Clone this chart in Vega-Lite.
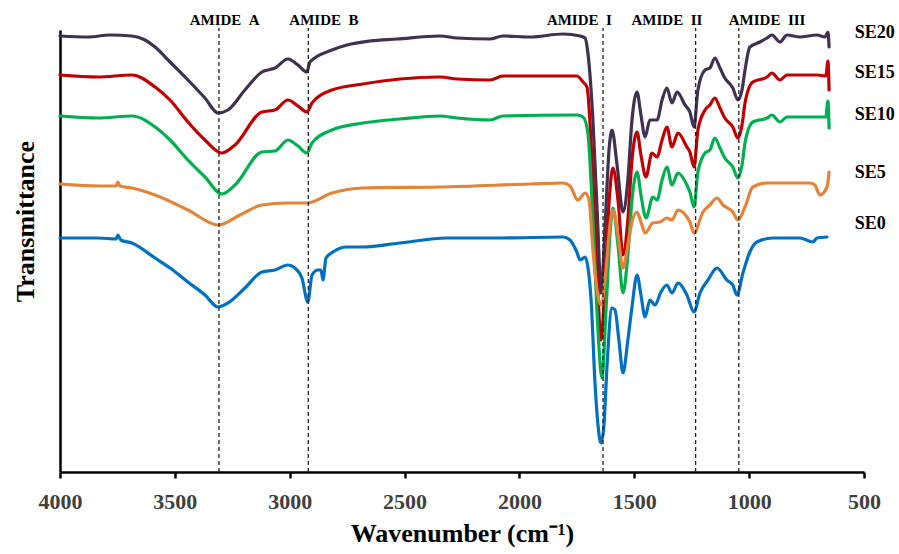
{
  "$schema": "https://vega.github.io/schema/vega-lite/v6.json",
  "width": 804,
  "height": 442,
  "autosize": {"type": "none"},
  "padding": {"left": 60, "top": 30, "right": 35, "bottom": 82},
  "background": "white",
  "config": {
    "view": {"stroke": null},
    "font": "Liberation Serif"
  },
  "datasets": {
    "spectra": [
      {"s":"SE20","w":4000,"t":436},{"s":"SE20","w":3878,"t":435},{"s":"SE20","w":3782,"t":437},{"s":"SE20","w":3687,"t":436},{"s":"SE20","w":3630,"t":432},{"s":"SE20","w":3586,"t":425},{"s":"SE20","w":3521,"t":410},{"s":"SE20","w":3443,"t":392},{"s":"SE20","w":3369,"t":374},{"s":"SE20","w":3312,"t":359},{"s":"SE20","w":3269,"t":362},{"s":"SE20","w":3195,"t":382},{"s":"SE20","w":3121,"t":400},{"s":"SE20","w":3064,"t":404},{"s":"SE20","w":3008,"t":413},{"s":"SE20","w":2964,"t":407},{"s":"SE20","w":2925,"t":400},{"s":"SE20","w":2912,"t":410},{"s":"SE20","w":2816,"t":422},{"s":"SE20","w":2751,"t":427},{"s":"SE20","w":2651,"t":431},{"s":"SE20","w":2533,"t":433},{"s":"SE20","w":2346,"t":436},{"s":"SE20","w":2272,"t":434},{"s":"SE20","w":2128,"t":433},{"s":"SE20","w":2072,"t":436},{"s":"SE20","w":1954,"t":435},{"s":"SE20","w":1810,"t":438},{"s":"SE20","w":1736,"t":436},{"s":"SE20","w":1714,"t":434},{"s":"SE20","w":1702,"t":419},{"s":"SE20","w":1680,"t":352},{"s":"SE20","w":1658,"t":242},{"s":"SE20","w":1645,"t":179},{"s":"SE20","w":1628,"t":242},{"s":"SE20","w":1610,"t":322},{"s":"SE20","w":1597,"t":342},{"s":"SE20","w":1575,"t":307},{"s":"SE20","w":1549,"t":260},{"s":"SE20","w":1528,"t":292},{"s":"SE20","w":1510,"t":352},{"s":"SE20","w":1488,"t":380},{"s":"SE20","w":1471,"t":357},{"s":"SE20","w":1453,"t":335},{"s":"SE20","w":1432,"t":352},{"s":"SE20","w":1401,"t":352},{"s":"SE20","w":1379,"t":372},{"s":"SE20","w":1358,"t":384},{"s":"SE20","w":1336,"t":369},{"s":"SE20","w":1314,"t":380},{"s":"SE20","w":1279,"t":367},{"s":"SE20","w":1258,"t":360},{"s":"SE20","w":1240,"t":345},{"s":"SE20","w":1223,"t":382},{"s":"SE20","w":1192,"t":402},{"s":"SE20","w":1171,"t":404},{"s":"SE20","w":1149,"t":414},{"s":"SE20","w":1127,"t":404},{"s":"SE20","w":1106,"t":394},{"s":"SE20","w":1071,"t":384},{"s":"SE20","w":1049,"t":372},{"s":"SE20","w":1031,"t":382},{"s":"SE20","w":1018,"t":402},{"s":"SE20","w":997,"t":425},{"s":"SE20","w":953,"t":430},{"s":"SE20","w":922,"t":434},{"s":"SE20","w":901,"t":437},{"s":"SE20","w":866,"t":430},{"s":"SE20","w":835,"t":437},{"s":"SE20","w":779,"t":435},{"s":"SE20","w":705,"t":437},{"s":"SE20","w":670,"t":435},{"s":"SE20","w":657,"t":440},{"s":"SE20","w":652,"t":425},

      {"s":"SE15","w":4000,"t":397},{"s":"SE15","w":3835,"t":395},{"s":"SE15","w":3687,"t":397},{"s":"SE15","w":3586,"t":385},{"s":"SE15","w":3521,"t":372},{"s":"SE15","w":3443,"t":350},{"s":"SE15","w":3369,"t":332},{"s":"SE15","w":3295,"t":319},{"s":"SE15","w":3238,"t":327},{"s":"SE15","w":3121,"t":360},{"s":"SE15","w":3064,"t":362},{"s":"SE15","w":3008,"t":372},{"s":"SE15","w":2964,"t":366},{"s":"SE15","w":2925,"t":360},{"s":"SE15","w":2903,"t":369},{"s":"SE15","w":2816,"t":382},{"s":"SE15","w":2681,"t":388},{"s":"SE15","w":2520,"t":393},{"s":"SE15","w":2346,"t":395},{"s":"SE15","w":2272,"t":393},{"s":"SE15","w":2128,"t":392},{"s":"SE15","w":2072,"t":396},{"s":"SE15","w":1750,"t":396},{"s":"SE15","w":1723,"t":390},{"s":"SE15","w":1706,"t":385},{"s":"SE15","w":1684,"t":312},{"s":"SE15","w":1662,"t":202},{"s":"SE15","w":1645,"t":132},{"s":"SE15","w":1623,"t":212},{"s":"SE15","w":1606,"t":282},{"s":"SE15","w":1593,"t":304},{"s":"SE15","w":1571,"t":272},{"s":"SE15","w":1549,"t":217},{"s":"SE15","w":1528,"t":252},{"s":"SE15","w":1510,"t":312},{"s":"SE15","w":1488,"t":340},{"s":"SE15","w":1471,"t":317},{"s":"SE15","w":1449,"t":295},{"s":"SE15","w":1423,"t":319},{"s":"SE15","w":1401,"t":315},{"s":"SE15","w":1379,"t":332},{"s":"SE15","w":1358,"t":345},{"s":"SE15","w":1336,"t":325},{"s":"SE15","w":1310,"t":339},{"s":"SE15","w":1271,"t":325},{"s":"SE15","w":1258,"t":320},{"s":"SE15","w":1240,"t":305},{"s":"SE15","w":1223,"t":342},{"s":"SE15","w":1192,"t":362},{"s":"SE15","w":1171,"t":367},{"s":"SE15","w":1149,"t":374},{"s":"SE15","w":1127,"t":364},{"s":"SE15","w":1106,"t":354},{"s":"SE15","w":1071,"t":345},{"s":"SE15","w":1049,"t":334},{"s":"SE15","w":1031,"t":347},{"s":"SE15","w":1018,"t":369},{"s":"SE15","w":984,"t":390},{"s":"SE15","w":922,"t":395},{"s":"SE15","w":901,"t":399},{"s":"SE15","w":866,"t":392},{"s":"SE15","w":835,"t":397},{"s":"SE15","w":705,"t":397},{"s":"SE15","w":666,"t":396},{"s":"SE15","w":657,"t":411},{"s":"SE15","w":652,"t":382},

      {"s":"SE10","w":4000,"t":356},{"s":"SE10","w":3835,"t":354},{"s":"SE10","w":3687,"t":356},{"s":"SE10","w":3586,"t":345},{"s":"SE10","w":3521,"t":332},{"s":"SE10","w":3443,"t":312},{"s":"SE10","w":3369,"t":295},{"s":"SE10","w":3295,"t":278},{"s":"SE10","w":3238,"t":287},{"s":"SE10","w":3121,"t":320},{"s":"SE10","w":3064,"t":321},{"s":"SE10","w":3008,"t":332},{"s":"SE10","w":2964,"t":326},{"s":"SE10","w":2925,"t":319},{"s":"SE10","w":2903,"t":329},{"s":"SE10","w":2816,"t":342},{"s":"SE10","w":2681,"t":349},{"s":"SE10","w":2520,"t":353},{"s":"SE10","w":2346,"t":356},{"s":"SE10","w":2272,"t":354},{"s":"SE10","w":2128,"t":352},{"s":"SE10","w":2072,"t":356},{"s":"SE10","w":1750,"t":357},{"s":"SE10","w":1723,"t":355},{"s":"SE10","w":1702,"t":339},{"s":"SE10","w":1680,"t":252},{"s":"SE10","w":1658,"t":142},{"s":"SE10","w":1641,"t":94},{"s":"SE10","w":1623,"t":162},{"s":"SE10","w":1606,"t":237},{"s":"SE10","w":1593,"t":264},{"s":"SE10","w":1571,"t":227},{"s":"SE10","w":1549,"t":179},{"s":"SE10","w":1528,"t":217},{"s":"SE10","w":1510,"t":272},{"s":"SE10","w":1488,"t":300},{"s":"SE10","w":1471,"t":277},{"s":"SE10","w":1449,"t":254},{"s":"SE10","w":1419,"t":275},{"s":"SE10","w":1401,"t":272},{"s":"SE10","w":1379,"t":292},{"s":"SE10","w":1358,"t":305},{"s":"SE10","w":1336,"t":287},{"s":"SE10","w":1310,"t":299},{"s":"SE10","w":1271,"t":287},{"s":"SE10","w":1258,"t":280},{"s":"SE10","w":1240,"t":265},{"s":"SE10","w":1223,"t":300},{"s":"SE10","w":1192,"t":319},{"s":"SE10","w":1171,"t":322},{"s":"SE10","w":1149,"t":334},{"s":"SE10","w":1127,"t":324},{"s":"SE10","w":1106,"t":314},{"s":"SE10","w":1071,"t":305},{"s":"SE10","w":1049,"t":294},{"s":"SE10","w":1031,"t":307},{"s":"SE10","w":1018,"t":329},{"s":"SE10","w":984,"t":350},{"s":"SE10","w":922,"t":354},{"s":"SE10","w":901,"t":357},{"s":"SE10","w":866,"t":350},{"s":"SE10","w":835,"t":355},{"s":"SE10","w":705,"t":355},{"s":"SE10","w":666,"t":355},{"s":"SE10","w":657,"t":371},{"s":"SE10","w":652,"t":344},

      {"s":"SE5","w":4000,"t":288},{"s":"SE5","w":3826,"t":286},{"s":"SE5","w":3756,"t":286},{"s":"SE5","w":3748,"t":290},{"s":"SE5","w":3739,"t":286},{"s":"SE5","w":3687,"t":284},{"s":"SE5","w":3586,"t":277},{"s":"SE5","w":3443,"t":262},{"s":"SE5","w":3312,"t":247},{"s":"SE5","w":3216,"t":257},{"s":"SE5","w":3121,"t":267},{"s":"SE5","w":3008,"t":269},{"s":"SE5","w":2925,"t":269},{"s":"SE5","w":2816,"t":279},{"s":"SE5","w":2681,"t":284},{"s":"SE5","w":2346,"t":285},{"s":"SE5","w":1954,"t":288},{"s":"SE5","w":1810,"t":289},{"s":"SE5","w":1780,"t":286},{"s":"SE5","w":1745,"t":272},{"s":"SE5","w":1714,"t":279},{"s":"SE5","w":1697,"t":272},{"s":"SE5","w":1680,"t":222},{"s":"SE5","w":1662,"t":182},{"s":"SE5","w":1645,"t":167},{"s":"SE5","w":1623,"t":202},{"s":"SE5","w":1606,"t":247},{"s":"SE5","w":1593,"t":262},{"s":"SE5","w":1571,"t":237},{"s":"SE5","w":1549,"t":204},{"s":"SE5","w":1528,"t":227},{"s":"SE5","w":1510,"t":250},{"s":"SE5","w":1488,"t":260},{"s":"SE5","w":1471,"t":250},{"s":"SE5","w":1453,"t":239},{"s":"SE5","w":1419,"t":249},{"s":"SE5","w":1388,"t":250},{"s":"SE5","w":1358,"t":254},{"s":"SE5","w":1336,"t":252},{"s":"SE5","w":1310,"t":262},{"s":"SE5","w":1271,"t":255},{"s":"SE5","w":1258,"t":250},{"s":"SE5","w":1240,"t":239},{"s":"SE5","w":1201,"t":260},{"s":"SE5","w":1171,"t":267},{"s":"SE5","w":1140,"t":274},{"s":"SE5","w":1114,"t":267},{"s":"SE5","w":1071,"t":260},{"s":"SE5","w":1049,"t":252},{"s":"SE5","w":1018,"t":265},{"s":"SE5","w":984,"t":285},{"s":"SE5","w":922,"t":289},{"s":"SE5","w":735,"t":289},{"s":"SE5","w":714,"t":287},{"s":"SE5","w":692,"t":277},{"s":"SE5","w":661,"t":285},{"s":"SE5","w":652,"t":300},

      {"s":"SE0","w":4000,"t":234},{"s":"SE0","w":3835,"t":234},{"s":"SE0","w":3756,"t":233},{"s":"SE0","w":3748,"t":237},{"s":"SE0","w":3735,"t":232},{"s":"SE0","w":3687,"t":229},{"s":"SE0","w":3586,"t":214},{"s":"SE0","w":3521,"t":204},{"s":"SE0","w":3443,"t":190},{"s":"SE0","w":3369,"t":177},{"s":"SE0","w":3312,"t":165},{"s":"SE0","w":3269,"t":169},{"s":"SE0","w":3195,"t":184},{"s":"SE0","w":3121,"t":200},{"s":"SE0","w":3064,"t":202},{"s":"SE0","w":3008,"t":207},{"s":"SE0","w":2977,"t":204},{"s":"SE0","w":2947,"t":194},{"s":"SE0","w":2921,"t":170},{"s":"SE0","w":2903,"t":197},{"s":"SE0","w":2877,"t":202},{"s":"SE0","w":2864,"t":202},{"s":"SE0","w":2855,"t":192},{"s":"SE0","w":2842,"t":214},{"s":"SE0","w":2812,"t":220},{"s":"SE0","w":2751,"t":225},{"s":"SE0","w":2681,"t":225},{"s":"SE0","w":2520,"t":229},{"s":"SE0","w":2315,"t":234},{"s":"SE0","w":2085,"t":234},{"s":"SE0","w":1810,"t":235},{"s":"SE0","w":1780,"t":232},{"s":"SE0","w":1750,"t":220},{"s":"SE0","w":1736,"t":212},{"s":"SE0","w":1714,"t":215},{"s":"SE0","w":1702,"t":205},{"s":"SE0","w":1688,"t":172},{"s":"SE0","w":1671,"t":89},{"s":"SE0","w":1658,"t":47},{"s":"SE0","w":1645,"t":29},{"s":"SE0","w":1632,"t":47},{"s":"SE0","w":1619,"t":105},{"s":"SE0","w":1597,"t":164},{"s":"SE0","w":1584,"t":162},{"s":"SE0","w":1567,"t":132},{"s":"SE0","w":1549,"t":99},{"s":"SE0","w":1528,"t":132},{"s":"SE0","w":1510,"t":165},{"s":"SE0","w":1488,"t":197},{"s":"SE0","w":1471,"t":177},{"s":"SE0","w":1453,"t":155},{"s":"SE0","w":1432,"t":172},{"s":"SE0","w":1410,"t":167},{"s":"SE0","w":1384,"t":180},{"s":"SE0","w":1358,"t":187},{"s":"SE0","w":1336,"t":179},{"s":"SE0","w":1310,"t":189},{"s":"SE0","w":1271,"t":177},{"s":"SE0","w":1240,"t":160},{"s":"SE0","w":1214,"t":179},{"s":"SE0","w":1179,"t":192},{"s":"SE0","w":1140,"t":204},{"s":"SE0","w":1097,"t":192},{"s":"SE0","w":1071,"t":187},{"s":"SE0","w":1053,"t":177},{"s":"SE0","w":1027,"t":199},{"s":"SE0","w":997,"t":220},{"s":"SE0","w":966,"t":230},{"s":"SE0","w":896,"t":234},{"s":"SE0","w":779,"t":234},{"s":"SE0","w":722,"t":230},{"s":"SE0","w":705,"t":234},{"s":"SE0","w":661,"t":235}
    ],
    "bands": [
      {"name":"AMIDE\u00a0\u00a0A","w":3308,"lx":3283},
      {"name":"AMIDE\u00a0\u00a0B","w":2919,"lx":2851},
      {"name":"AMIDE\u00a0\u00a0I","w":1636,"lx":1739},
      {"name":"AMIDE\u00a0\u00a0II","w":1233,"lx":1358},
      {"name":"AMIDE\u00a0\u00a0III","w":1045,"lx":922}
    ],
    "series": [
      {"s":"SE20","t":434},
      {"s":"SE15","t":394},
      {"s":"SE10","t":352},
      {"s":"SE5","t":294},
      {"s":"SE0","t":243}
    ]
  },
  "layer": [
    {
      "data": {"name": "spectra"},
      "mark": {"type": "line", "strokeWidth": 3.2, "strokeJoin": "round", "strokeCap": "round", "interpolate": "monotone"},
      "encoding": {
        "x": {
          "field": "w", "type": "quantitative",
          "scale": {"domain": [500, 4000], "reverse": true, "nice": false},
          "axis": {
            "values": [4000, 3500, 3000, 2500, 2000, 1500, 1000, 500],
            "format": "d",
            "grid": false,
            "domainColor": "black", "domainWidth": 2.5,
            "tickColor": "black", "tickWidth": 2.5, "tickSize": 6,
            "labelFont": "Liberation Serif", "labelFontSize": 22, "labelFontWeight": "bold",
            "labelColor": "#404040", "labelPadding": 13, "labelFlush": false,
            "title": "Wavenumber (cm⁻¹)",
            "titleFont": "Liberation Serif", "titleFontSize": 26, "titleFontWeight": "bold",
            "titleColor": "black", "titleBaseline": "alphabetic", "titleY": 69
          }
        },
        "y": {
          "field": "t", "type": "quantitative",
          "scale": {"domain": [0, 442], "nice": false, "zero": false},
          "axis": {
            "ticks": false, "labels": false, "grid": false,
            "domainColor": "black", "domainWidth": 2.5,
            "title": "Transmittance",
            "titleFont": "Liberation Serif", "titleFontSize": 26, "titleFontWeight": "bold",
            "titleColor": "black", "titleAngle": -90, "titleBaseline": "alphabetic",
            "titleX": -27, "titleY": 191, "titleAlign": "center"
          }
        },
        "color": {
          "field": "s", "type": "nominal",
          "scale": {"domain": ["SE0", "SE5", "SE10", "SE15", "SE20"], "range": ["#0070C0", "#E2843A", "#00B050", "#C00000", "#403152"]},
          "legend": null
        },
        "order": {"field": "w", "type": "quantitative", "sort": "descending"}
      }
    },
    {
      "data": {"name": "bands"},
      "mark": {"type": "rule", "color": "#222222", "strokeWidth": 1.3, "strokeDash": [4, 3]},
      "encoding": {
        "x": {"field": "w", "type": "quantitative"},
        "y": {"datum": 0, "type": "quantitative"},
        "y2": {"datum": 444}
      }
    },
    {
      "data": {"name": "bands"},
      "mark": {"type": "text", "font": "Liberation Serif", "fontSize": 15, "fontWeight": "bold", "color": "black", "align": "center", "baseline": "alphabetic"},
      "encoding": {
        "x": {"field": "lx", "type": "quantitative"},
        "y": {"datum": 447, "type": "quantitative"},
        "text": {"field": "name"}
      }
    },
    {
      "data": {"name": "series"},
      "mark": {"type": "text", "font": "Liberation Serif", "fontSize": 18, "fontWeight": "bold", "color": "black", "align": "left", "baseline": "alphabetic"},
      "encoding": {
        "x": {"datum": 540, "type": "quantitative"},
        "y": {"field": "t", "type": "quantitative"},
        "text": {"field": "s"}
      }
    }
  ]
}
